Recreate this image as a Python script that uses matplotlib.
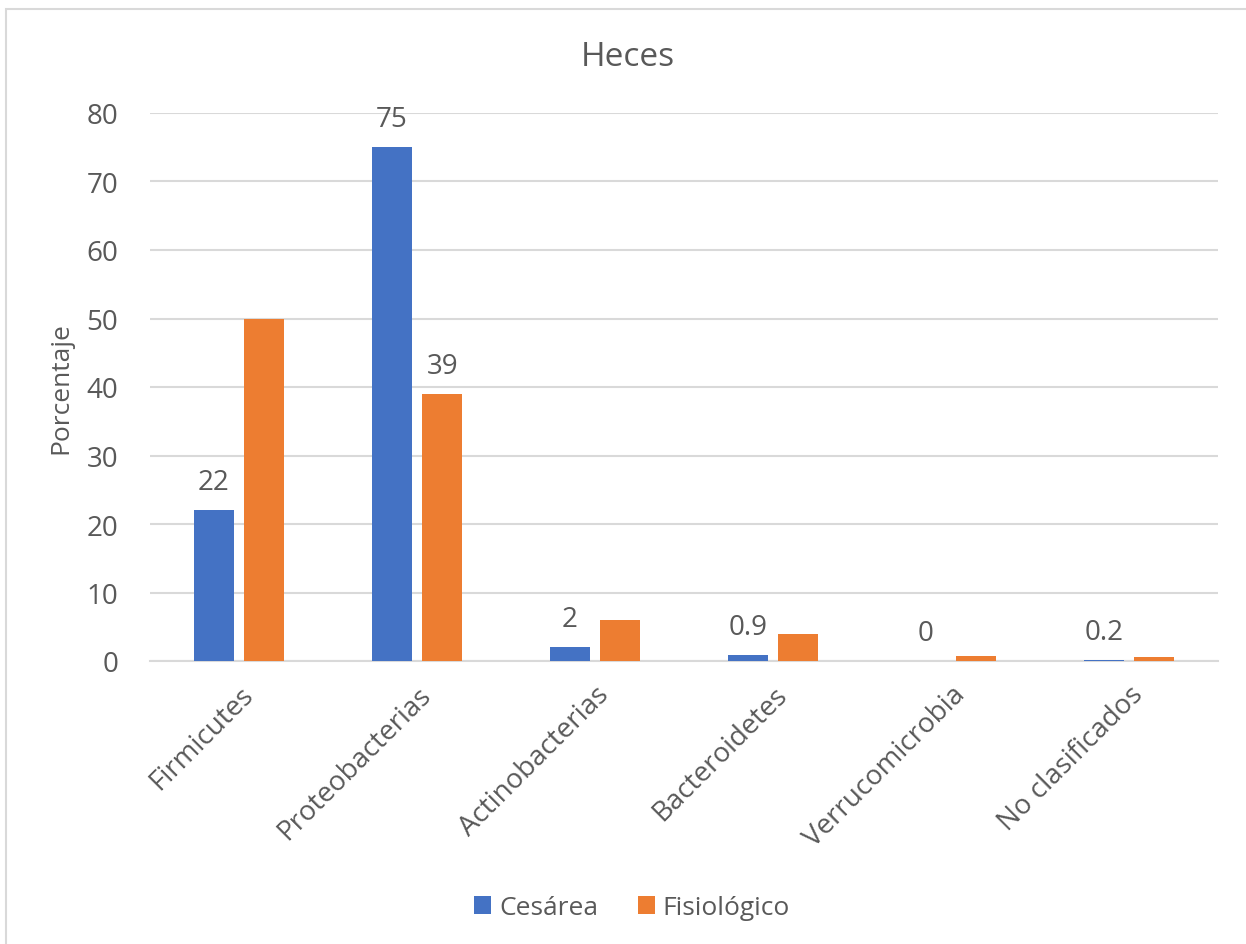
import matplotlib
matplotlib.use("Agg")
import matplotlib.pyplot as plt
from matplotlib.patches import Rectangle
import numpy as np

categories = ["Firmicutes", "Proteobacterias", "Actinobacterias", "Bacteroidetes",
              "Verrucomicrobia", "No clasificados"]
cesarea = [22, 75, 2, 0.9, 0, 0.2]
fisiologico = [50, 39, 6, 4, 0.8, 0.6]
cesarea_labels = ["22", "75", "2", "0.9", "0", "0.2"]
fisiologico_labels = {1: "39"}
yticks = [0, 10, 20, 30, 40, 50, 60, 70, 80]

plt.rcParams['font.family'] = ['Open Sans', 'DejaVu Sans']
TXT = "#595959"
BLUE = "#4472C4"
ORANGE = "#ED7D31"
GRID = "#D9D9D9"

fig = plt.figure(figsize=(12.46, 9.45), dpi=100)
ax = fig.add_axes([150/1246, 283/945, (1218-150)/1246, (662-114)/945])

x = np.arange(len(categories))
w = 0.225
off = 0.142
b1 = ax.bar(x - off, cesarea, w, color=BLUE, label="Cesárea", zorder=3)
b2 = ax.bar(x + off, fisiologico, w, color=ORANGE, label="Fisiológico", zorder=3)

for i, (v, lab) in enumerate(zip(cesarea, cesarea_labels)):
    ax.annotate(lab, (x[i] - off, v), xytext=(0, 10), textcoords="offset points",
                ha="center", va="bottom", fontsize=20, color=TXT)
for i, lab in fisiologico_labels.items():
    ax.annotate(lab, (x[i] + off, fisiologico[i]), xytext=(0, 10), textcoords="offset points",
                ha="center", va="bottom", fontsize=20, color=TXT)

ax.set_xlim(-0.5, len(categories) - 0.5)
ax.set_ylim(0, 80)
ax.set_yticks(yticks)
ax.set_yticklabels([str(t) for t in yticks], fontsize=20, color=TXT)
ax.set_xticks(x)
ax.set_xticklabels(categories, rotation=45, ha="right", rotation_mode="anchor",
                   fontsize=20, color=TXT)
ax.tick_params(axis="both", length=0)
ax.tick_params(axis="y", pad=23)
ax.tick_params(axis="x", pad=14)
ax.grid(axis="y", color=GRID, linewidth=1.5, zorder=0)
for s in ["top", "right", "left"]:
    ax.spines[s].set_visible(False)
ax.spines["bottom"].set_color(GRID)
ax.spines["bottom"].set_linewidth(1.5)

ax.set_ylabel("Porcentaje", fontsize=19, color=TXT, labelpad=9)
fig.text(628/1246, 1 - 57/945, "Heces", ha="center", va="center", fontsize=24, color=TXT)

leg = fig.legend(handles=[b1, b2], loc="center", bbox_to_anchor=(632/1246, 1 - 909/945),
                 ncol=2, frameon=False, fontsize=19, handlelength=0.65, handleheight=0.65,
                 handletextpad=0.3, columnspacing=1.5)
for t in leg.get_texts():
    t.set_color(TXT)

fig.patches.append(Rectangle((6/1246, -0.1), 1.1, 1.1 - 10/945, transform=fig.transFigure,
                             fill=False, edgecolor=GRID, linewidth=1.5))

fig.savefig("out.png", dpi=100)
